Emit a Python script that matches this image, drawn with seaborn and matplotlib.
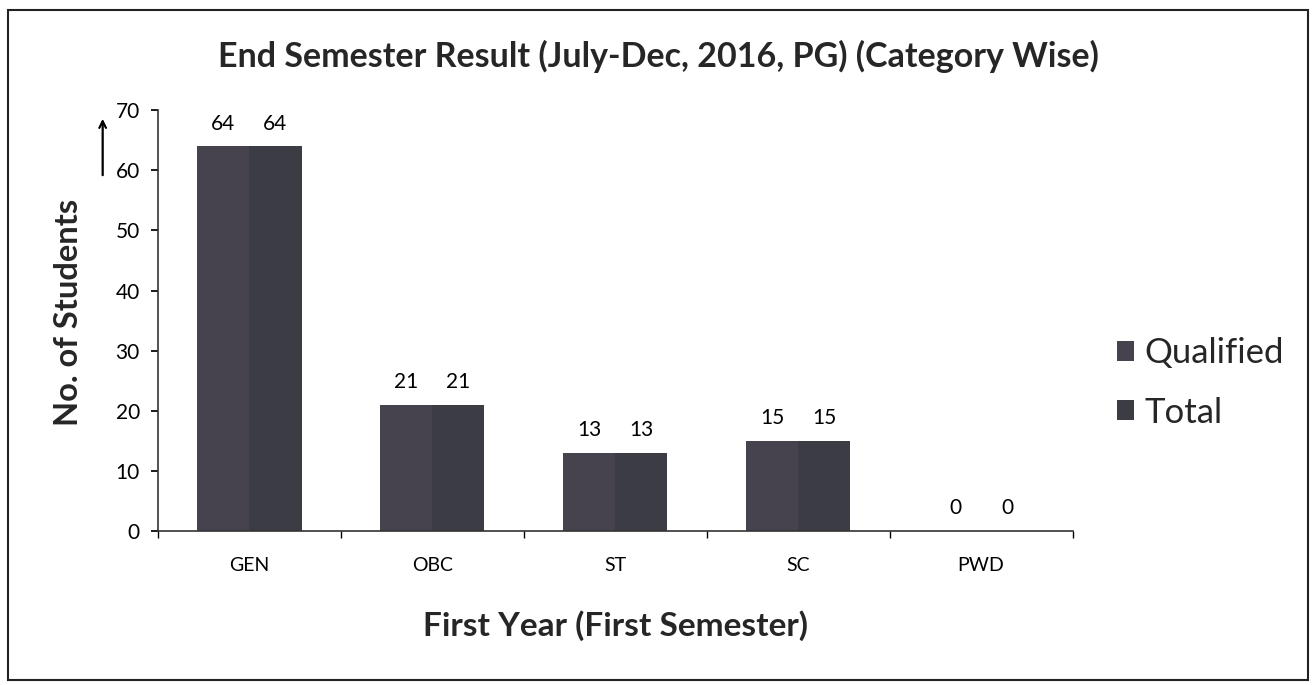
import pandas as pd
import matplotlib.pyplot as plt
import seaborn as sns
from matplotlib.patches import Rectangle

categories = ["GEN", "OBC", "ST", "SC", "PWD"]
qualified = [64, 21, 13, 15, 0]
total = [64, 21, 13, 15, 0]
series = ["Qualified", "Total"]
colors = ["#46434f", "#3b3c44"]

df = pd.DataFrame({
    "Category": categories * 2,
    "Students": qualified + total,
    "Series": [series[0]] * len(categories) + [series[1]] * len(categories),
})

sns.set_theme(style="white")
plt.rcParams["font.family"] = ["Lato", "DejaVu Sans"]

fig = plt.figure(figsize=(13.16, 6.85), dpi=100)
ax = fig.add_axes([0.120, 0.225, 0.695, 0.614])

sns.barplot(data=df, x="Category", y="Students", hue="Series", palette=colors,
            width=0.57, gap=0, saturation=1, linewidth=0, ax=ax)

for c in ax.containers:
    ax.bar_label(c, padding=9, fontsize=15, color="black")

ax.set_ylim(0, 70)
ax.set_yticks(range(0, 71, 10))
ax.set_xlim(-0.5, 4.5)
ax.tick_params(axis="y", labelsize=15, length=5, pad=8, direction="out", left=True, colors="black")
ax.tick_params(axis="x", which="major", length=0, labelsize=14, pad=19, colors="black")
ax.set_xticks([i - 0.5 for i in range(6)], minor=True)
ax.tick_params(axis="x", which="minor", length=5, direction="out", bottom=True, color="black")
for s in ["top", "right"]:
    ax.spines[s].set_visible(False)
for s in ["left", "bottom"]:
    ax.spines[s].set_color("#333333")
    ax.spines[s].set_linewidth(1.2)

ax.set_xlabel("First Year (First Semester)", fontsize=24, fontweight="bold", labelpad=26)
ax.set_ylabel("No. of Students", fontsize=23.5, fontweight="bold")
ax.yaxis.set_label_coords(-0.082, 0.52)
fig.text(0.500, 0.917, "End Semester Result (July-Dec, 2016, PG) (Category Wise)",
         ha="center", va="center", fontsize=24.5, fontweight="bold")

# arrow beside the y label
fig.add_artist(plt.annotate("", xy=(0.078, 0.830), xytext=(0.078, 0.740), xycoords="figure fraction",
                            arrowprops=dict(arrowstyle="->", color="black", lw=1.3)))

leg = ax.legend(loc="center left", bbox_to_anchor=(1.014, 0.352), frameon=False, fontsize=25,
                handlelength=0.5, handleheight=0.5, handletextpad=0.3, labelspacing=0.8)

fig.add_artist(Rectangle((0.006, 0.008), 0.988, 0.978, transform=fig.transFigure,
                         fill=False, edgecolor="#222222", linewidth=1.5))

fig.savefig("out.png", dpi=100)
